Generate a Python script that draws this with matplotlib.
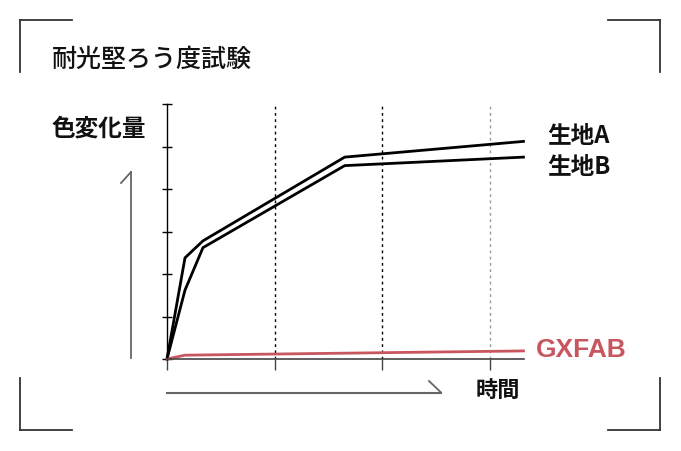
import matplotlib
matplotlib.use('Agg')
import matplotlib.pyplot as plt

plt.rcParams['font.family'] = ['Noto Sans CJK JP', 'DejaVu Sans']

# data
t = [0, 0.167, 0.334, 1.65, 3.31]
kijiA = [0, 2.38, 2.78, 4.75, 5.12]
kijiB = [0, 1.62, 2.62, 4.55, 4.75]
t_gx = [0, 0.167, 3.31]
gxfab = [0, 0.09, 0.19]
xticks = [0, 1, 2, 3]
yticks = [0, 1, 2, 3, 4, 5, 6]
red = '#c8565f'

W, H = 681, 451
fig = plt.figure(figsize=(W / 100, H / 100), dpi=100)
fig.patch.set_facecolor('white')

# main plot area
ax = fig.add_axes([167 / W, (H - 359) / H, (524 - 167) / W, (359 - 104) / H])
ax.set_xlim(0, 3.315)
ax.set_ylim(0, 6)
for s in ['top', 'right']:
    ax.spines[s].set_visible(False)
ax.spines['left'].set_color('black')
ax.spines['left'].set_linewidth(1)
ax.spines['bottom'].set_color('#444444')
ax.spines['bottom'].set_linewidth(1.2)
ax.set_xticks(xticks)
ax.set_yticks(yticks)
ax.tick_params(axis='y', direction='inout', length=7, width=1, labelleft=False)
ax.tick_params(axis='x', direction='out', length=8, width=1, color='#444444', labelbottom=False)

for xv, c in zip(xticks[1:], ['black', 'black', '#999999']):
    ax.axvline(xv, color=c, lw=1, ls=(0, (2, 2.5)))

ax.plot(t, kijiA, color='black', lw=2, clip_on=False, solid_joinstyle='miter')
ax.plot(t, kijiB, color='black', lw=2, clip_on=False, solid_joinstyle='miter')
ax.plot(t_gx, gxfab, color=red, lw=2, clip_on=False)

# overlay in pixel coordinates for frame marks, arrows and text
ov = fig.add_axes([0, 0, 1, 1], facecolor='none')
ov.set_xlim(0, W)
ov.set_ylim(H, 0)
ov.axis('off')

fc = '#333333'
L = 52
for (cx, cy, dx, dy) in [(20, 20, 1, 1), (660, 20, -1, 1), (20, 430, 1, -1), (660, 430, -1, -1)]:
    ov.plot([cx, cx + dx * L], [cy, cy], color=fc, lw=1.3)
    ov.plot([cx, cx], [cy, cy + dy * L], color=fc, lw=1.3)

ac = '#666666'
ov.plot([131, 131], [172, 358], color=ac, lw=1.3)
ov.plot([131, 121], [172, 183], color=ac, lw=1.3)
ov.plot([167, 441], [392.5, 392.5], color=ac, lw=1.5)
ov.plot([441, 429], [392.5, 381], color=ac, lw=1.3)

ov.text(52, 60, '耐光堅ろう度試験', fontsize=18, fontweight='medium', va='center', ha='left', color='#111111')
ov.text(52, 129, '色変化量', fontsize=17, fontweight='bold', va='center', ha='left', color='#111111')
ov.text(547, 136, '生地A', fontsize=17, fontweight='bold', va='center', ha='left', color='#111111')
ov.text(547, 167, '生地B', fontsize=17, fontweight='bold', va='center', ha='left', color='#111111')
ov.text(536, 350, 'GXFAB', fontsize=19, fontweight='bold', family='Liberation Sans',
        va='center', ha='left', color=red)
ov.text(476, 390, '時間', fontsize=16, fontweight='bold', va='center', ha='left', color='#111111')

fig.savefig('out.png', dpi=100)
